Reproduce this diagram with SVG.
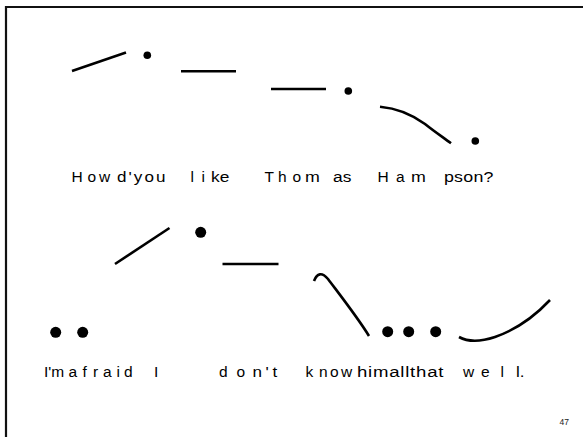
<svg xmlns="http://www.w3.org/2000/svg" width="583" height="437" viewBox="0 0 583 437">
<style>
.s{fill:none;stroke:#000;stroke-width:2.6;stroke-linecap:butt}
.d{fill:#000}
.t{font-family:"Liberation Sans",Arial,sans-serif;font-size:15.5px;fill:#000}
.p{font-family:"Liberation Sans",Arial,sans-serif;font-size:8.5px;fill:#222}
</style>
<rect width="583" height="437" fill="#fff"/>
<path d="M6,437 V7 H583" fill="none" stroke="#111" stroke-width="2.2"/>
<g id="connectors">
<g id="contour1">
<path class="s" d="M72,71 L126,52.5"/>
<path class="s" d="M181,71.3 H236"/>
<path class="s" d="M271,89 H326"/>
<path class="s" d="M380,106.7 C395,108 410,113 425,124 C435,132 444,138 451,143.3"/>
</g>
<g id="contour2">
<path class="s" d="M115,264 L169.5,228"/>
<path class="s" d="M222.5,264 H278.5"/>
<path class="s" d="M314,281 C317,273 322,272 328,279 C340,295 358,318 369,336"/>
<path class="s" d="M459,337 C468,342 480,342 495,337 C515,330 535,316 550,300"/>
</g>
</g>
<g id="dots1">
<circle class="d" cx="147.3" cy="55.3" r="3.8"/>
<circle class="d" cx="348.3" cy="91" r="3.8"/>
<circle class="d" cx="475.3" cy="141" r="3.8"/>
</g>
<g id="dots2">
<circle class="d" cx="55.7" cy="332.3" r="5.5"/>
<circle class="d" cx="82.7" cy="332.3" r="5.5"/>
<circle class="d" cx="200.7" cy="232.3" r="5.5"/>
<circle class="d" cx="387.7" cy="331.7" r="5.5"/>
<circle class="d" cx="408.7" cy="331.7" r="5.5"/>
<circle class="d" cx="435.7" cy="331.7" r="5.5"/>
</g>
<g id="text1" class="t">
<text x="71.5" y="182">H</text>
<text x="87.5" y="182">o</text>
<text x="99" y="182">w</text>
<text transform="translate(117,182) scale(1.1,1)" textLength="44" lengthAdjust="spacing">d'you</text>
<text x="190.5" y="182">l</text>
<text x="201.5" y="182">i</text>
<text transform="translate(211,182) scale(1.12,1)">ke</text>
<text x="264.5" y="182">T</text>
<text x="278" y="182">h</text>
<text x="292.5" y="182">o</text>
<text transform="translate(305,182) scale(1.15,1)">m</text>
<text transform="translate(333,182) scale(1.12,1)">as</text>
<text x="377.5" y="182">H</text>
<text x="396" y="182">a</text>
<text transform="translate(411,182) scale(1.15,1)">m</text>
<text transform="translate(444,182) scale(1.15,1)" textLength="43" lengthAdjust="spacing">pson?</text>
</g>
<g id="text2" class="t">
<text x="44" y="377">I'm</text>
<text x="68.5" y="377">a</text>
<text x="82.5" y="377">f</text>
<text x="93" y="377">r</text>
<text x="103" y="377">a</text>
<text x="116.5" y="377">i</text>
<text x="124" y="377">d</text>
<text x="154" y="377">I</text>
<text x="219" y="377">d</text>
<text x="236.5" y="377">o</text>
<text transform="translate(252.5,377) scale(1.1,1)" textLength="22.5" lengthAdjust="spacing">n't</text>
<text x="305.5" y="377">k</text>
<text x="319" y="377">n</text>
<text x="330" y="377">o</text>
<text x="341" y="377">w</text>
<text transform="translate(357,377) scale(1.2,1)" textLength="72" lengthAdjust="spacing">himallthat</text>
<text x="463" y="377">w</text>
<text x="481" y="377">e</text>
<text x="500.5" y="377">l</text>
<text transform="translate(516,377) scale(1.1,1)">l.</text>
</g>
<text class="p" x="559.5" y="425">47</text>
</svg>
